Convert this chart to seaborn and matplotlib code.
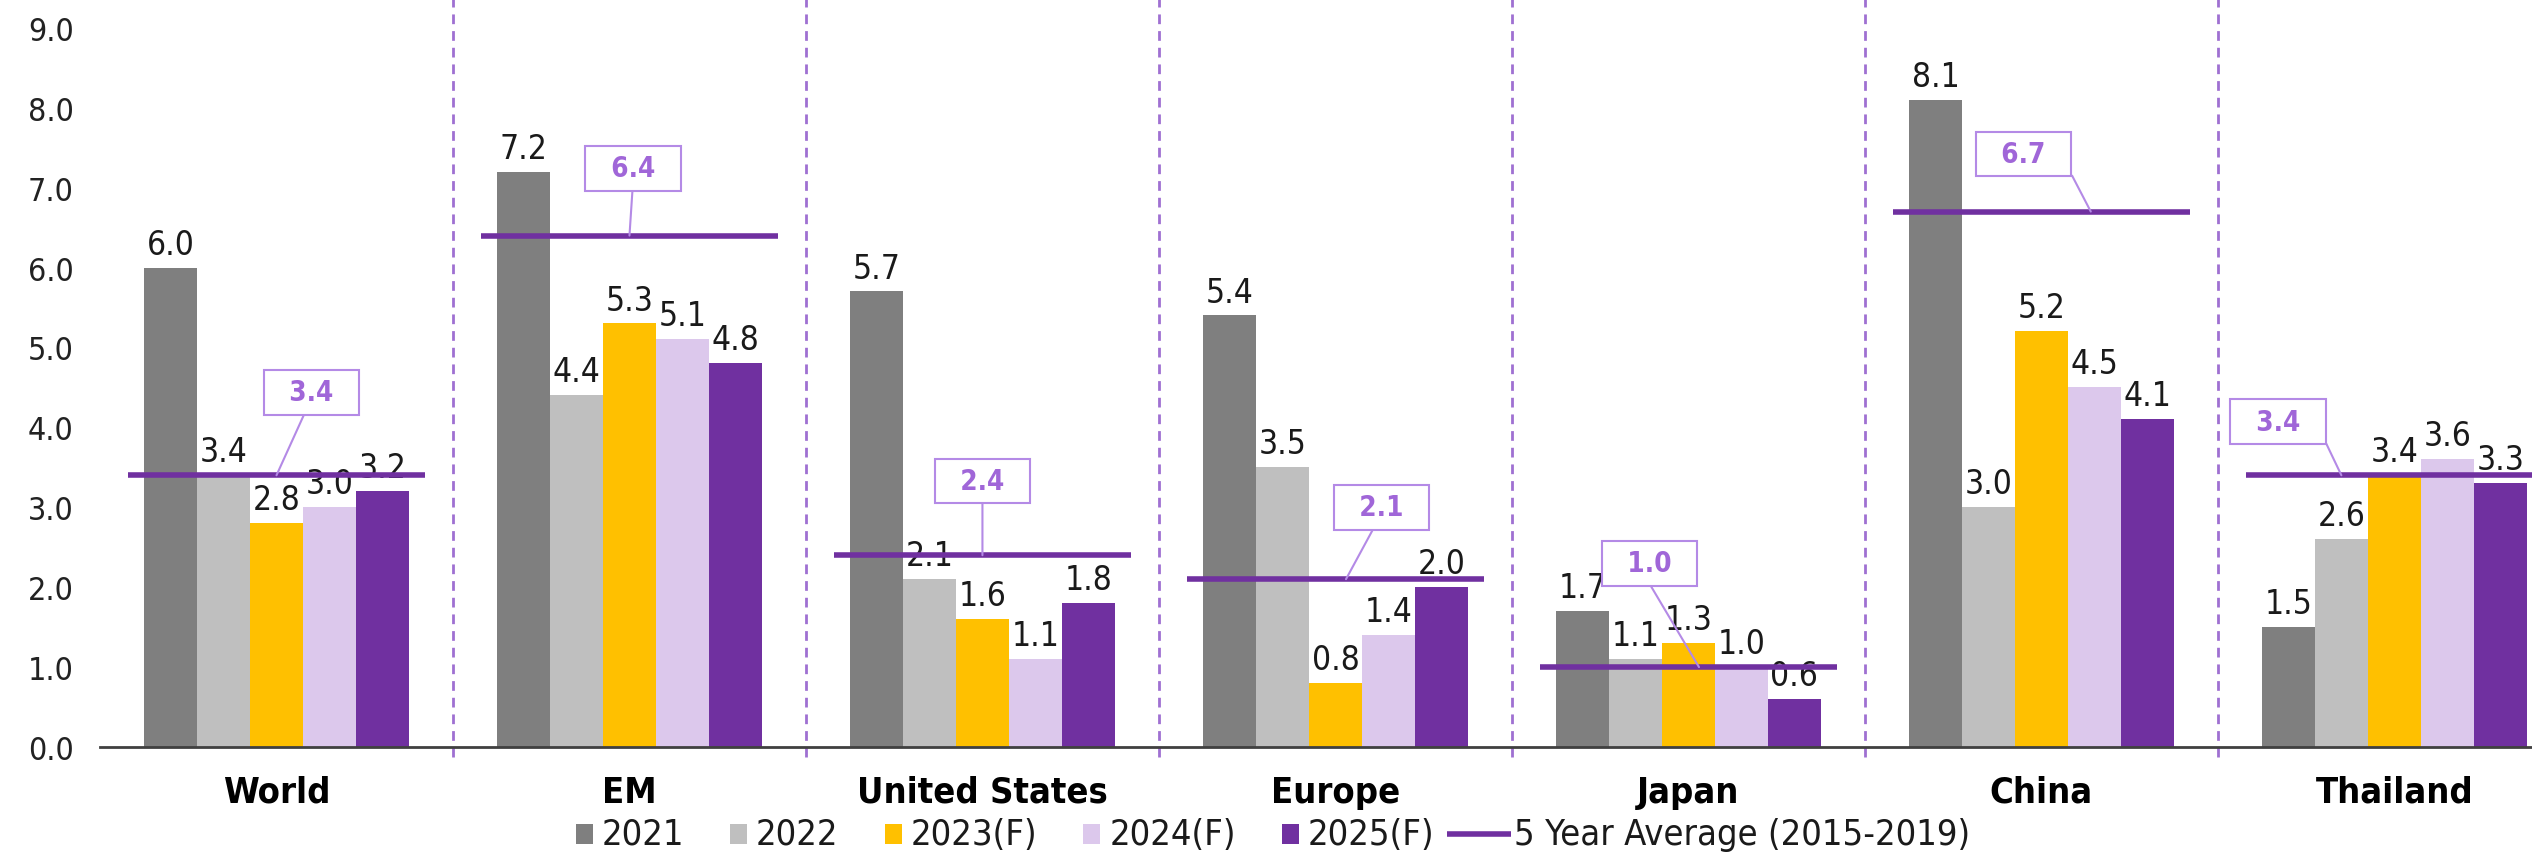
import matplotlib
matplotlib.use("Agg")
import matplotlib.pyplot as plt
from matplotlib import font_manager
from matplotlib.lines import Line2D
from matplotlib.patches import Rectangle
import numpy as np
import pandas as pd
import seaborn as sns

# Real GDP growth (%) by economy
regions = ["World", "EM", "United States", "Europe", "Japan", "China", "Thailand"]
years = ["2021", "2022", "2023(F)", "2024(F)", "2025(F)"]
gdp_2021 = [6.0, 7.2, 5.7, 5.4, 1.7, 8.1, 1.5]
gdp_2022 = [3.4, 4.4, 2.1, 3.5, 1.1, 3.0, 2.6]
gdp_2023 = [2.8, 5.3, 1.6, 0.8, 1.3, 5.2, 3.4]
gdp_2024 = [3.0, 5.1, 1.1, 1.4, 1.0, 4.5, 3.6]
gdp_2025 = [3.2, 4.8, 1.8, 2.0, 0.6, 4.1, 3.3]
avg_2015_2019 = [3.4, 6.4, 2.4, 2.1, 1.0, 6.7, 3.4]
avg_label = "5 Year Average (2015-2019)"

year_colors = ["#7F7F7F", "#BFBFBF", "#FFC000", "#DCC8EC", "#7030A0"]
avg_color = "#7030A0"
callout_color = "#A066D8"
sep_color = "#9F70D2"

# callout placement: (box x offset, box y, leader x offset, leader anchor on box)
callouts = [
    (0.10, 4.44, 0.00, (0.45, 0.0)),
    (0.01, 7.24, 0.00, (0.5, 0.0)),
    (0.00, 3.33, 0.00, (0.5, 0.0)),
    (0.13, 3.00, 0.03, (0.45, 0.0)),
    (-0.11, 2.30, 0.03, (0.45, 0.0)),
    (-0.05, 7.42, 0.14, (1.0, 0.35)),
    (-0.33, 4.07, -0.15, (1.0, 0.4)),
]

df = pd.DataFrame({
    "region": np.tile(regions, len(years)),
    "year": np.repeat(years, len(regions)),
    "growth": np.concatenate([gdp_2021, gdp_2022, gdp_2023, gdp_2024, gdp_2025]),
})

names = {f.name for f in font_manager.fontManager.ttflist}
if "DejaVu Sans Condensed" in names:
    plt.rcParams["font.family"] = ["DejaVu Sans Condensed", "DejaVu Sans"]
else:
    plt.rcParams["font.family"] = ["DejaVu Sans"]
    plt.rcParams["font.stretch"] = "condensed"

W, H = 2532, 853
fig = plt.figure(figsize=(W / 100, H / 100), dpi=100)
ax_left, ax_bottom = 100 / W, 1 - 748 / H
ax = fig.add_axes([ax_left, ax_bottom, 1 - ax_left, 748 / H])

sns.barplot(data=df, x="region", y="growth", hue="year", order=regions,
            hue_order=years, palette=year_colors, saturation=1,
            width=0.75, gap=0, linewidth=0, legend=False, ax=ax)

for cont in ax.containers:
    ax.bar_label(cont, fmt="%.1f", padding=5, fontsize=24, color="#1a1a1a")

ymax = 9.36
ax.set_ylim(0, ymax)
ax.set_xlim(-0.5, 6.39)
ax.set_yticks(np.arange(0, 10, 1))
ax.set_yticklabels([f"{v:.1f}" for v in np.arange(0, 10, 1)])
ax.tick_params(axis="y", length=0, pad=19, labelsize=23, labelcolor="#222222")
ax.tick_params(axis="x", length=0, pad=20, labelsize=26)
for lbl in ax.get_xticklabels():
    lbl.set_fontweight("bold")
ax.set_xlabel("")
ax.set_ylabel("")
for side in ["top", "right", "left"]:
    ax.spines[side].set_visible(False)
ax.spines["bottom"].set_color("#404040")
ax.spines["bottom"].set_linewidth(2)

# dashed separators between economies
for i in range(len(regions) - 1):
    ax.plot([i + 0.5, i + 0.5], [-0.12, ymax], color=sep_color, lw=2,
            linestyle=(0, (3.5, 2.5)), clip_on=False, zorder=1)

# 5-year average lines and callouts
for i, (avg, (bx, by, tx, rel)) in enumerate(zip(avg_2015_2019, callouts)):
    ax.plot([i - 0.42, i + 0.42], [avg, avg], color=avg_color, lw=4,
            solid_capstyle="butt", zorder=4, clip_on=False)
    ax.annotate(f"  {avg:.1f}  ", xy=(i + tx, avg), xytext=(i + bx, by),
                ha="center", va="center", fontsize=20, fontweight="bold",
                color=callout_color, zorder=6,
                bbox=dict(boxstyle="square,pad=0.3", fc="white",
                          ec="#B48AE6", lw=1.5),
                arrowprops=dict(arrowstyle="-", color="#B48AE6", lw=1.5,
                                shrinkA=0, shrinkB=0, relpos=rel))

# legend row laid out in pixels: small square keys, a line key for the average
renderer = fig.canvas.get_renderer()
leg_fs = 26
yc = H - 835
sq_w, sq_h, sq_gap, entry_gap = 17, 20, 9, 46
ln_w, ln_gap_before, ln_gap_after = 64, 13, 3
entries = [("box", c, lab) for c, lab in zip(year_colors, years)]
entries.append(("line", avg_color, avg_label))
texts = []
for kind, col, lab in entries:
    t = fig.text(0, yc / H, lab, fontsize=leg_fs, va="center", ha="left",
                 color="#1a1a1a")
    texts.append(t)
widths = [t.get_window_extent(renderer=renderer).width for t in texts]
total = 0
for k, ((kind, _, _), tw) in enumerate(zip(entries, widths)):
    if kind == "box":
        total += (entry_gap if k else 0) + sq_w + sq_gap + tw
    else:
        total += ln_gap_before + ln_w + ln_gap_after + tw
x = 1273 - total / 2
for k, ((kind, col, lab), tw, t) in enumerate(zip(entries, widths, texts)):
    if kind == "box":
        x += entry_gap if k else 0
        fig.add_artist(Rectangle((x / W, (yc - sq_h / 2) / H), sq_w / W,
                                 sq_h / H, transform=fig.transFigure,
                                 facecolor=col, edgecolor="none"))
        x += sq_w + sq_gap
    else:
        x += ln_gap_before
        fig.add_artist(Line2D([x / W, (x + ln_w) / W], [yc / H, yc / H],
                              transform=fig.transFigure, color=col, lw=4,
                              solid_capstyle="butt"))
        x += ln_w + ln_gap_after
    t.set_x(x / W)
    x += tw

fig.savefig("out.png", dpi=100)
